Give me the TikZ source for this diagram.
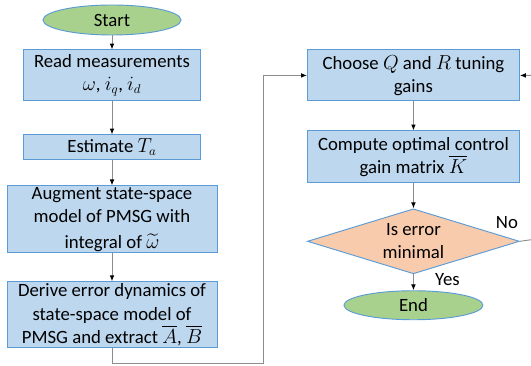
\documentclass[tikz,border=0pt]{standalone}
\usepackage{amsmath}
\usepackage{fontspec}
\setmainfont{Carlito}
\usetikzlibrary{shapes.geometric, positioning, arrows.meta}

\definecolor{boxfill}{HTML}{BDD7EE}
\definecolor{boxline}{HTML}{5B9BD5}
\definecolor{termfill}{HTML}{A9D18E}
\definecolor{decfill}{HTML}{F8CBAD}
\definecolor{flowline}{HTML}{8C8C8C}

\tikzset{
    process/.style={rectangle, draw=boxline, fill=boxfill, line width=0.8pt,
        align=center, inner sep=1pt},
    terminal/.style={ellipse, draw=boxline, fill=termfill, line width=0.8pt,
        inner sep=0pt},
    decision/.style={diamond, draw=boxline, fill=decfill, line width=0.8pt,
        align=center, inner sep=0pt, aspect=3.26},
    flow/.style={draw=flowline, line width=0.8pt, -{Latex[black, length=5pt, width=4pt]}}
}

\begin{document}
\begin{tikzpicture}[font=\fontsize{16}{20}\selectfont]
        \clip (0,0) rectangle (15.93,-10.98);

        % left column
        \node[terminal, minimum width=4.14cm, minimum height=0.9cm] (start) at (3.36,-0.6) {Start};
        \node[process, minimum width=5.31cm, minimum height=1.53cm, below=0.42cm of start] (read)
            {Read measurements\\$\omega$, $i_q$, $i_d$};
        \node[process, minimum width=5.31cm, minimum height=0.75cm, below=0.99cm of read] (estim)
            {Estimate $T_a$};
        \node[process, minimum width=6.3cm, minimum height=2.01cm, below=0.75cm of estim] (augment)
            {Augment state-space\\model of PMSG with\\[2pt]integral of $\widetilde{\omega}$};
        \node[process, minimum width=6.3cm, minimum height=1.98cm, below=0.84cm of augment] (derive)
            {Derive error dynamics of\\state-space model of\\PMSG and extract $\overline{A}$, $\overline{B}$};

        % right column
        \node[process, minimum width=6.36cm, minimum height=1.53cm, right=3.18cm of read] (choose)
            {Choose $Q$ and $R$ tuning\\gains};
        \node[process, minimum width=6.36cm, minimum height=1.56cm, below=0.87cm of choose] (gain)
            {Compute optimal control\\gain matrix $\overline{K}$};
        \node[decision, minimum width=6.36cm, minimum height=1.95cm, below=0.75cm of gain] (check)
            {Is error\\minimal};
        \node[terminal, minimum width=4.17cm, minimum height=0.87cm, below=0.48cm of check] (end) {End};

        \coordinate (lowturn) at (7.89,-10.89);
        \coordinate (rightturn) at (16.3,-7.14);

        \draw[flow] (start) -- (read);
        \draw[flow] (read) -- (estim);
        \draw[flow] (estim) -- (augment);
        \draw[flow] (augment) -- (derive);
        \draw[flow] (derive.south) |- (lowturn) |- (choose.west);
        \draw[flow] (choose) -- (gain);
        \draw[flow] (gain) -- (check);
        \draw[flow] (check.south) -- node[pos=0, xshift=1.02cm, yshift=-0.17cm] {Yes} (end.north);
        \draw[flow] (check.east) -- node[pos=0, xshift=-0.39cm, yshift=0.57cm] {No} (rightturn) |- (choose.east);
    \end{tikzpicture}
\end{document}
